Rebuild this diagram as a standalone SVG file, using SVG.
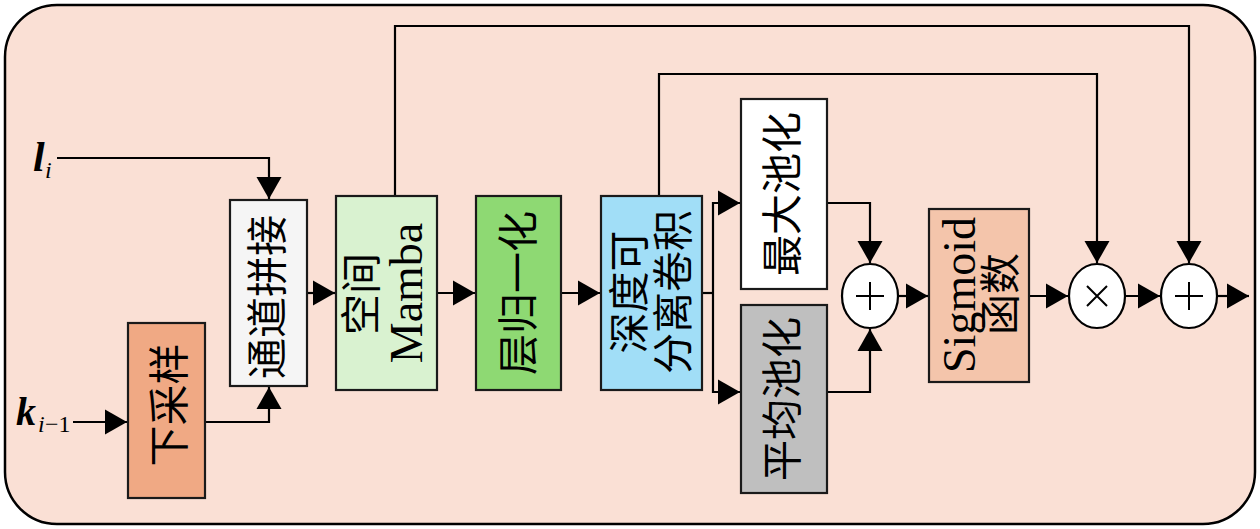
<svg xmlns="http://www.w3.org/2000/svg" width="1260" height="529" viewBox="0 0 1260 529">
<style>
.box{stroke:#1a1a1a;stroke-width:2.2}
.cn{font-family:"Liberation Serif","Noto Sans CJK SC",serif;font-size:41px;fill:#000}
.lat{font-family:"Liberation Serif",serif;font-size:46px;fill:#000}
.conn{fill:none;stroke:#000;stroke-width:2.2}
.op{fill:#fff;stroke:#000;stroke-width:2.2}
.sym{stroke:#000;stroke-width:2;fill:none}
.math{font-family:"Liberation Serif",serif;fill:#000}
</style>
<defs>
<marker id="ah" markerUnits="userSpaceOnUse" markerWidth="24" markerHeight="26" refX="22" refY="12.5" orient="auto" overflow="visible">
<path d="M0,0 L22,12.5 L0,25 z" fill="#000"/>
</marker>
</defs>
<rect x="5" y="5" width="1250" height="519" rx="52" ry="52" fill="#FAE0D5" stroke="#000" stroke-width="2.5"/>
<g id="connectors" class="conn">
<path d="M57,158 H269 V199" marker-end="url(#ah)"/>
<path d="M73,422 H127" marker-end="url(#ah)"/>
<path d="M205,422 H269 V387" marker-end="url(#ah)"/>
<path d="M307,293 H335" marker-end="url(#ah)"/>
<path d="M395,196 V26 H1189 V263" marker-end="url(#ah)"/>
<path d="M437,293 H475" marker-end="url(#ah)"/>
<path d="M561,293 H600" marker-end="url(#ah)"/>
<path d="M659,196 V74 H1097 V263" marker-end="url(#ah)"/>
<path d="M702,293 H713"/>
<path d="M713,293 V203 H740" marker-end="url(#ah)"/>
<path d="M713,293 V392 H740" marker-end="url(#ah)"/>
<path d="M827,203 H870 V263" marker-end="url(#ah)"/>
<path d="M827,392 H870 V329" marker-end="url(#ah)"/>
<path d="M898,296 H928" marker-end="url(#ah)"/>
<path d="M1030,296 H1068" marker-end="url(#ah)"/>
<path d="M1126,296 H1160" marker-end="url(#ah)"/>
<path d="M1218,296 H1249" marker-end="url(#ah)"/>
</g>
<g id="label-l">
<text class="math" x="33" y="171" font-size="42" font-weight="bold" font-style="italic">l</text>
<text class="math" x="45" y="178" font-size="24" font-style="italic">i</text>
</g>
<g id="label-k">
<text class="math" x="16" y="425" font-size="40" font-weight="bold" font-style="italic">k</text>
<text class="math" x="38" y="432" font-size="24" font-style="italic">i</text>
<text class="math" x="45" y="432" font-size="24">−1</text>
</g>
<g id="downsample">
<rect class="box" x="128" y="323" width="77" height="175" fill="#F0A984"/>
<text class="cn" transform="translate(170,405) rotate(-90)" text-anchor="middle" dominant-baseline="central">下采样</text>
</g>
<g id="concat">
<rect class="box" x="230" y="200" width="77" height="186" fill="#F5F5F5"/>
<text class="cn" transform="translate(268,297) rotate(-90)" text-anchor="middle" dominant-baseline="central">通道拼接</text>
</g>
<g id="mamba">
<rect class="box" x="336" y="196" width="101" height="194" fill="#D9F2D0"/>
<text class="cn" transform="translate(362,294) rotate(-90)" text-anchor="middle" dominant-baseline="central">空间</text>
<text class="lat" transform="translate(422,293) rotate(-90)" text-anchor="middle">Mamba</text>
</g>
<g id="layernorm">
<rect class="box" x="476" y="196" width="85" height="194" fill="#8ED973"/>
<text class="cn" transform="translate(519,293) rotate(-90)" text-anchor="middle" dominant-baseline="central">层归一化</text>
</g>
<g id="dwconv">
<rect class="box" x="601" y="196" width="101" height="194" fill="#A1DEF7"/>
<text class="cn" transform="translate(630,292) rotate(-90)" text-anchor="middle" dominant-baseline="central">深度可</text>
<text class="cn" transform="translate(674,292) rotate(-90)" text-anchor="middle" dominant-baseline="central">分离卷积</text>
</g>
<g id="maxpool">
<rect class="box" x="741" y="99" width="86" height="190" fill="#FFFFFF"/>
<text class="cn" transform="translate(783,194) rotate(-90)" text-anchor="middle" dominant-baseline="central">最大池化</text>
</g>
<g id="avgpool">
<rect class="box" x="741" y="305" width="86" height="188" fill="#BFBFBF"/>
<text class="cn" transform="translate(783,399) rotate(-90)" text-anchor="middle" dominant-baseline="central">平均池化</text>
</g>
<g id="add1">
<ellipse class="op" cx="870" cy="296" rx="28" ry="32"/>
<path class="sym" d="M856,296 H884 M870,282 V310"/>
</g>
<g id="sigmoid">
<rect class="box" x="929" y="209" width="100" height="173" fill="#F4C5AB"/>
<text class="lat" transform="translate(975,295) rotate(-90)" text-anchor="middle">Sigmoid</text>
<text class="cn" transform="translate(1001,294) rotate(-90)" text-anchor="middle" dominant-baseline="central">函数</text>
</g>
<g id="mul">
<ellipse class="op" cx="1097" cy="296" rx="28" ry="32"/>
<path class="sym" d="M1087,286 L1107,306 M1107,286 L1087,306"/>
</g>
<g id="add2">
<ellipse class="op" cx="1189" cy="296" rx="28" ry="32"/>
<path class="sym" d="M1175,296 H1203 M1189,282 V310"/>
</g>
</svg>
